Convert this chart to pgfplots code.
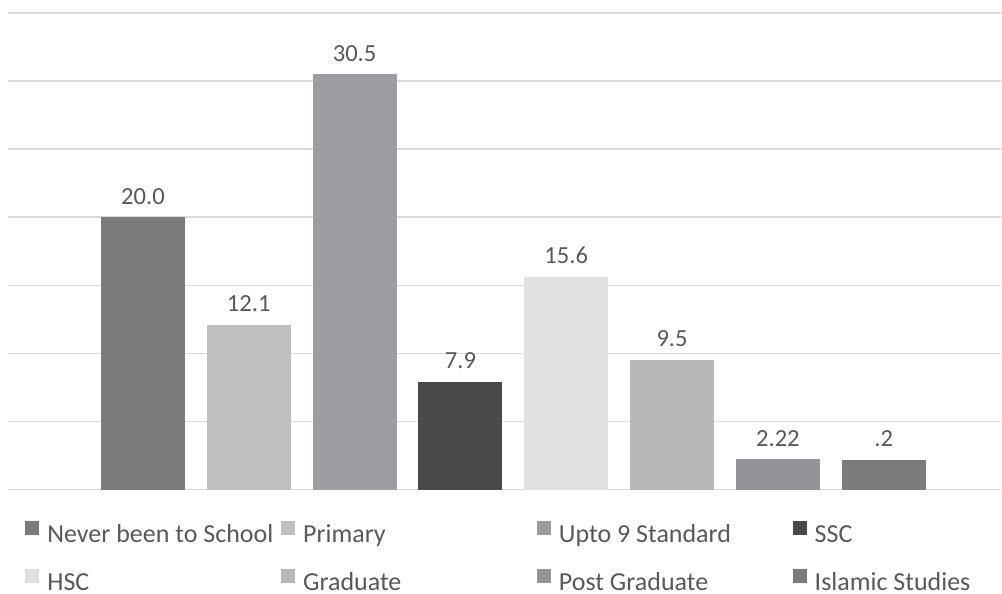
\documentclass[border=0pt]{standalone}
\usepackage{pgfplots}
\pgfplotsset{compat=1.18}
\usepackage{fontspec}
\setmainfont{Carlito}
\definecolor{cA}{HTML}{7C7C7E}
\definecolor{cB}{HTML}{BEBFC1}
\definecolor{cC}{HTML}{9C9DA1}
\definecolor{cD}{HTML}{4A4A4B}
\definecolor{cE}{HTML}{DFE0E2}
\definecolor{cF}{HTML}{B6B7B9}
\definecolor{cG}{HTML}{939497}
\definecolor{cH}{HTML}{7C7C7E}
\definecolor{txt}{HTML}{595959}
\definecolor{grd}{HTML}{D9D9D9}
\begin{document}
\begin{tikzpicture}
\begin{axis}[
  scale only axis, width=497pt, height=238.5pt,
  xmin=-1.275, xmax=8.11, ymin=0, ymax=35,
  ytick={0,5,...,35}, yticklabel=\empty, yticklabel style={overlay}, xtick=\empty,
  ymajorgrids, grid style={grd, line width=0.8pt},
  axis line style={draw=none}, major tick length=0pt,
  ybar, bar width=42pt, bar shift=0pt,
  clip=false,
  every node near coord/.append style={font=\fontsize{12.3}{14}\selectfont, text=txt, yshift=3pt},
  legend columns=4,
  legend style={at={(rel axis cs:0,0)}, anchor=north west, xshift=8.5pt, yshift=-15.5pt,
    draw=none, inner sep=0pt, font=\fontsize{13}{15}\selectfont, text=txt,
    nodes={inner sep=0pt}, row sep=11.5pt, column sep=0pt},
  legend cell align=left,
  legend image code/.code={\fill[#1] (0pt,-0.5pt) rectangle (7pt,6.5pt);},
]
\addplot[fill=cA, draw=none, nodes near coords={20.0}] coordinates {(0,20.0)};
\addplot[fill=cB, draw=none, nodes near coords={12.1}] coordinates {(1,12.1)};
\addplot[fill=cC, draw=none, nodes near coords={30.5}] coordinates {(2,30.5)};
\addplot[fill=cD, draw=none, nodes near coords={7.9}] coordinates {(3,7.9)};
\addplot[fill=cE, draw=none, nodes near coords={15.6}] coordinates {(4,15.6)};
\addplot[fill=cF, draw=none, nodes near coords={9.5}] coordinates {(5,9.5)};
\addplot[fill=cG, draw=none, nodes near coords={2.22}] coordinates {(6,2.22)};
\addplot[fill=cH, draw=none, nodes near coords={.2}] coordinates {(7,2.2)};
\legend{\makebox[121pt][l]{\strut\hspace{4pt}Never been to School},
  \makebox[121pt][l]{\strut\hspace{4pt}Primary},
  \makebox[121pt][l]{\strut\hspace{4pt}Upto 9 Standard},
  \strut\hspace{4pt}SSC,
  \makebox[121pt][l]{\strut\hspace{4pt}HSC},
  \makebox[121pt][l]{\strut\hspace{4pt}Graduate},
  \makebox[121pt][l]{\strut\hspace{4pt}Post Graduate},
  \strut\hspace{4pt}Islamic Studies}
\path (rel axis cs:0,0) ++(-4pt,-52pt);
\path (rel axis cs:1,1) ++(0pt,6.5pt);
\end{axis}
\end{tikzpicture}
\end{document}
